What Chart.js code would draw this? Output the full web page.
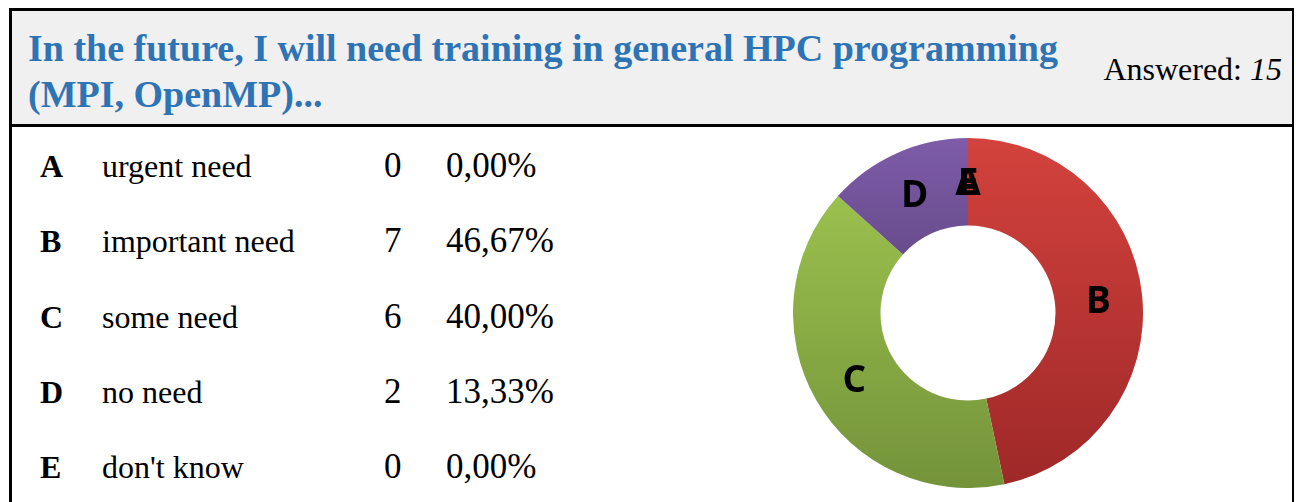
<!DOCTYPE html>
<html>
<head>
<meta charset="utf-8">
<script src="https://cdn.jsdelivr.net/npm/chart.js@4"></script>
<style>
    body { margin: 0; background: #fff; width: 1296px; height: 502px; overflow: hidden; position: relative; }
    .header {
        position: absolute; left: 9px; top: 8px; width: 1280px; height: 113px;
        background: #f0f0f0; border: 3px solid #000; border-right-width: 2px;
    }
    .body-box {
        position: absolute; left: 9px; top: 127px; width: 1280px; height: 380px;
        border-left: 3px solid #000; border-right: 2px solid #000;
    }
    .title {
        position: absolute; left: 28px; top: 25px; margin: 0;
        font: bold 38px/46px "Liberation Serif", "Times New Roman", serif; color: #2e74b5;
        white-space: nowrap;
    }
    .answered {
        position: absolute; right: 14px; top: 53px;
        font: 32px/32px "Liberation Serif", "Times New Roman", serif; color: #000;
    }
    .row { position: absolute; font: 32px/32px "Liberation Serif", "Times New Roman", serif; color: #000; white-space: nowrap; }
    .row span { position: absolute; top: 0; }
    .row .key { left: 40px; font-weight: bold; }
    .row .label { left: 102px; }
    .row .count, .row .pct { font-size: 35px; top: 0; }
    .row .count { left: 384px; }
    .row .pct { left: 446px; }
    #chartWrap { position: absolute; left: 793px; top: 138px; width: 350px; height: 350px; }
</style>
</head>
<body>
<div class="header"></div>
<div class="body-box"></div>
<h1 class="title" id="title"></h1>
<div class="answered" id="answered"></div>
<div id="rows"></div>
<div id="chartWrap"><canvas id="donut" width="350" height="350"></canvas></div>

<script>
const titleLines = ['In the future, I will need training in general HPC programming', '(MPI, OpenMP)...'];
const answered = 15;
const keys = ['A', 'B', 'C', 'D', 'E'];
const answers = ['urgent need', 'important need', 'some need', 'no need', "don't know"];
const counts = [0, 7, 6, 2, 0];
const rowTops = [150, 225, 301, 376, 451];

// colores tipo Excel (arriba -> abajo)
const topColors = ['#7e5ca8', '#d3423d', '#a2c951', '#7e5ca8', '#7e5ca8'];
const bottomColors = ['#3d2b57', '#9e2828', '#74933a', '#3d2b57', '#3d2b57'];

document.getElementById('title').innerHTML = titleLines.join('<br>');
document.getElementById('answered').innerHTML = 'Answered: <i>' + answered + '</i>';

const rowsDiv = document.getElementById('rows');
keys.forEach(function(k, i) {
    const pct = (counts[i] / answered * 100).toFixed(2).replace('.', ',') + '%';
    const row = document.createElement('div');
    row.className = 'row';
    row.style.top = rowTops[i] + 'px';
    row.innerHTML = '<span class="key">' + k + '</span>' +
        '<span class="label">' + answers[i] + '</span>' +
        '<span class="count">' + counts[i] + '</span>' +
        '<span class="pct">' + pct + '</span>';
    rowsDiv.appendChild(row);
});

// letras sobre cada sector
const sliceLabels = {
    id: 'sliceLabels',
    afterDatasetsDraw: function(chart) {
        const ctx = chart.ctx;
        const meta = chart.getDatasetMeta(0);
        ctx.save();
        ctx.font = 'bold 37px "Open Sans", sans-serif';
        ctx.fillStyle = '#000';
        ctx.textAlign = 'center';
        ctx.textBaseline = 'middle';
        meta.data.forEach(function(arc, i) {
            const p = arc.tooltipPosition();
            ctx.fillText(keys[i], p.x, p.y + 3);
        });
        ctx.restore();
    }
};

const canvas = document.getElementById('donut');
new Chart(canvas.getContext('2d'), {
    type: 'doughnut',
    data: {
        labels: keys,
        datasets: [{
            data: counts,
            borderWidth: 0,
            backgroundColor: function(c) {
                const area = c.chart.chartArea;
                if (!area) {
                    return topColors[c.dataIndex];
                }
                const g = c.chart.ctx.createLinearGradient(0, area.top, 0, area.bottom);
                g.addColorStop(0, topColors[c.dataIndex]);
                g.addColorStop(1, bottomColors[c.dataIndex]);
                return g;
            }
        }]
    },
    options: {
        responsive: false,
        animation: false,
        cutout: '50%',
        layout: { padding: 0 },
        plugins: {
            legend: { display: false },
            tooltip: { enabled: false }
        }
    },
    plugins: [sliceLabels]
});
</script>
</body>
</html>
